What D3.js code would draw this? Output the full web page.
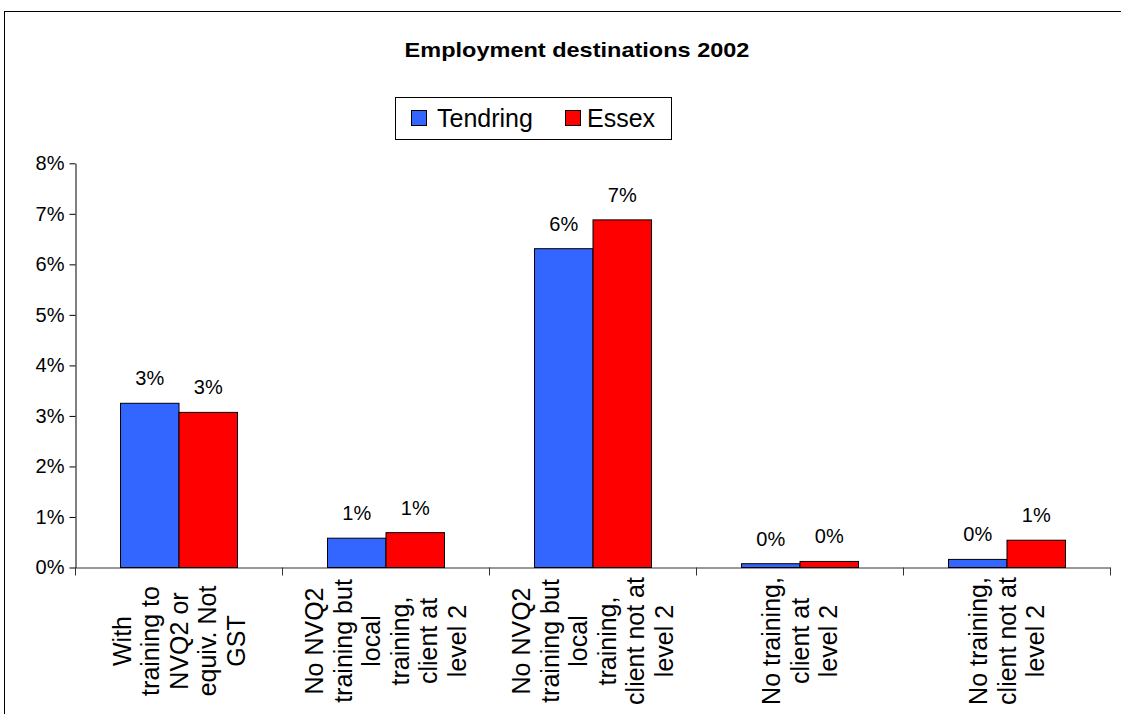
<!DOCTYPE html>
<html>
<head>
<meta charset="utf-8">
<script src="https://cdn.jsdelivr.net/npm/d3@7"></script>
<style>
  html, body { margin: 0; padding: 0; background: #fff; }
  svg { display: block; font-family: "Liberation Sans", Arial, sans-serif; }
</style>
</head>
<body>
<svg id="chart" width="1121" height="714"></svg>
<script>
const title = "Employment destinations 2002";
const categories = [
  ["With", "training to", "NVQ2 or", "equiv. Not", "GST"],
  ["No NVQ2", "training but", "local", "training,", "client at", "level 2"],
  ["No NVQ2", "training but", "local", "training,", "client not at", "level 2"],
  ["No training,", "client at", "level 2"],
  ["No training,", "client not at", "level 2"]
];
const seriesNames = ["Tendring", "Essex"];
const tendring = [0.0325, 0.0058, 0.0631, 0.00075, 0.0016];
const essex = [0.0307, 0.0069, 0.0688, 0.0012, 0.0054];
const seriesColors = ["#3366FF", "#FF0000"];
const yTicks = [0, 0.01, 0.02, 0.03, 0.04, 0.05, 0.06, 0.07, 0.08];

const svg = d3.select("#chart");
const catKeys = categories.map((c, i) => "c" + i);
const seriesData = [tendring, essex];

// outer border
svg.append("rect").attr("x", 4.5).attr("y", 11.5).attr("width", 1130).attr("height", 720)
  .attr("fill", "#fff").attr("stroke", "#000").attr("stroke-width", 1);

// title
svg.append("g").attr("transform", "translate(577,57) scale(1.12,1)")
  .append("text").attr("x", 0).attr("y", 0).attr("text-anchor", "middle")
  .attr("font-size", 21).attr("font-weight", "bold")
  .text(title);

// scales
const x0 = d3.scaleBand().domain(catKeys).range([75, 1110]).padding(0);
const x1 = d3.scaleBand().domain(seriesNames).range([45.5, 162.5]).padding(0);
const y = d3.scaleLinear().domain([0, 0.08]).range([567.5, 163.3]);

// y axis
const yAxis = d3.axisLeft(y).tickValues(yTicks).tickFormat(d3.format(".0%")).tickSize(6).tickSizeOuter(0);
const gy = svg.append("g").attr("transform", "translate(75.5,0)").call(yAxis);
gy.select(".domain").attr("stroke", "#000");
gy.selectAll(".tick line").attr("stroke", "#000");
gy.selectAll(".tick text").attr("font-size", 20).attr("font-family", "Liberation Sans, Arial, sans-serif")
  .attr("fill", "#000").attr("x", -11);

// x axis line with ticks at category boundaries
const gx = svg.append("g");
gx.append("line").attr("x1", 75).attr("x2", 1110.5).attr("y1", y(0) + 0.5).attr("y2", y(0) + 0.5)
  .attr("stroke", "#333");
const boundaries = catKeys.map(k => x0(k)).concat([x0(catKeys[catKeys.length - 1]) + x0.bandwidth()]);
gx.selectAll("line.tk").data(boundaries).join("line").attr("class", "tk")
  .attr("x1", d => Math.round(d) + 0.5).attr("x2", d => Math.round(d) + 0.5)
  .attr("y1", y(0)).attr("y2", y(0) + 8).attr("stroke", "#333");

// bars
const groups = svg.append("g").selectAll("g").data(catKeys).join("g")
  .attr("transform", k => `translate(${x0(k)},0)`);
groups.selectAll("rect").data((k, i) => seriesNames.map((s, j) => ({ s, j, v: seriesData[j][i] })))
  .join("rect")
  .attr("x", d => x1(d.s)).attr("width", x1.bandwidth())
  .attr("y", d => y(d.v)).attr("height", d => y(0) - y(d.v))
  .attr("fill", d => seriesColors[d.j]).attr("stroke", "#000").attr("stroke-width", 1);
groups.selectAll("text").data((k, i) => seriesNames.map((s, j) => ({ s, j, v: seriesData[j][i] })))
  .join("text")
  .attr("x", d => x1(d.s) + x1.bandwidth() / 2).attr("y", d => y(d.v) - 18)
  .attr("text-anchor", "middle").attr("font-size", 20)
  .text(d => d3.format(".0%")(d.v));

// category labels (rotated, multi-line)
const lineGap = 28.5;
const labels = svg.append("g").selectAll("g").data(categories).join("g")
  .attr("transform", (c, i) => `translate(${x0(catKeys[i]) + x0.bandwidth() / 2},641)`);
labels.selectAll("text").data(c => c.map((t, i) => ({ t, off: (i - (c.length - 1) / 2) * lineGap + 9 })))
  .join("text")
  .attr("transform", d => `translate(${d.off},0) rotate(-90)`)
  .attr("text-anchor", "middle").attr("font-size", 25)
  .text(d => d.t);

// legend
const lg = svg.append("g");
lg.append("rect").attr("x", 395.5).attr("y", 97.5).attr("width", 276).attr("height", 42)
  .attr("fill", "#fff").attr("stroke", "#000");
const legendItems = [
  { name: seriesNames[0], color: seriesColors[0], sx: 411.5, tx: 437 },
  { name: seriesNames[1], color: seriesColors[1], sx: 565.5, tx: 587 }
];
legendItems.forEach(it => {
  lg.append("rect").attr("x", it.sx).attr("y", 110.5).attr("width", 15).attr("height", 15)
    .attr("fill", it.color).attr("stroke", "#000");
  lg.append("text").attr("x", it.tx).attr("y", 127).attr("font-size", 25).text(it.name);
});
</script>
</body>
</html>
